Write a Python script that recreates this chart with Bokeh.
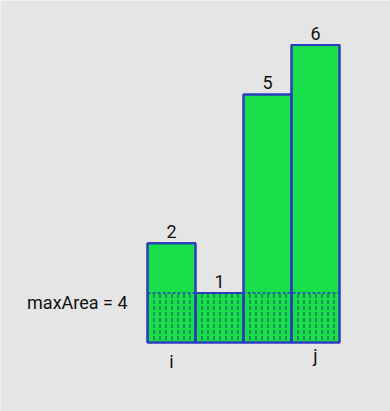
from bokeh.plotting import figure
from bokeh.models import ColumnDataSource, Range1d
from bokeh.core.properties import value
from bokeh.embed import file_html
from bokeh.resources import INLINE

# Bar heights and the pointer labels drawn under them
heights = [2, 1, 5, 6]
height_labels = ["2", "1", "5", "6"]
pointer_labels = ["i", "", "", "j"]
water_level = 1
area_label = "maxArea = 4"

xs = list(range(len(heights)))
src = ColumnDataSource(dict(
    x=xs,
    left=[x - 0.5 for x in xs],
    right=[x + 0.5 for x in xs],
    top=heights,
    bottom=[0] * len(heights),
    water=[water_level] * len(heights),
    hlab=height_labels,
))

BG = "#e5e5e5"
GREEN = "#19e04a"
BLUE = "#2c3cbf"
INK = "#111111"
FONT = value("Roboto")
FS = "18px"

p = figure(width=390, height=411, output_backend="svg", toolbar_location=None,
           x_range=Range1d(-3.5625, 4.5625), y_range=Range1d(-1.391, 6.895),
           min_border=0, background_fill_color=BG, border_fill_color=BG,
           outline_line_color=None)
p.axis.visible = False
p.grid.visible = False

# Bars
p.quad(left="left", right="right", bottom="bottom", top="top", source=src,
       fill_color=GREEN, line_color=BLUE, line_width=2)

# Shaded area up to the water level
p.quad(left="left", right="right", bottom="bottom", top="water", source=src,
       fill_alpha=0, line_color=None,
       hatch_pattern="vertical_dash", hatch_color="#15505e",
       hatch_scale=6, hatch_weight=1.1, hatch_alpha=1.0)
p.segment(x0=xs[0] - 0.5, y0=water_level, x1=xs[-1] + 0.5, y1=water_level,
          line_color=BLUE, line_width=1.5, line_dash="3 2")

# Redraw bar outlines above the hatching
p.quad(left="left", right="right", bottom="bottom", top="top", source=src,
       fill_alpha=0, line_color=BLUE, line_width=2)

# Value labels above bars
p.text(x="x", y="top", text="hlab", source=src, text_font=FONT,
       text_font_size=FS, text_align="center", text_baseline="bottom",
       y_offset=-5, text_color=INK)

# Pointer labels under the first and last bars
i_idx = pointer_labels.index("i")
j_idx = pointer_labels.index("j")
p.text(x=[xs[i_idx]], y=[0], text=[pointer_labels[i_idx]], text_font=FONT,
       text_font_size=FS, text_align="center", text_baseline="bottom",
       y_offset=29, text_color=INK)
p.text(x=[xs[j_idx]], y=[0], text=[pointer_labels[j_idx]], text_font=FONT,
       text_font_size=FS, text_align="center", text_baseline="bottom",
       y_offset=23, text_color=INK)

# Area annotation to the left of the shaded region
p.text(x=[xs[0] - 0.5], y=[water_level], text=[area_label], text_font=FONT,
       text_font_size=FS, text_align="right", text_baseline="bottom",
       x_offset=-20, y_offset=20, text_color=INK)

open("out.html", "w").write(file_html(p, INLINE))
